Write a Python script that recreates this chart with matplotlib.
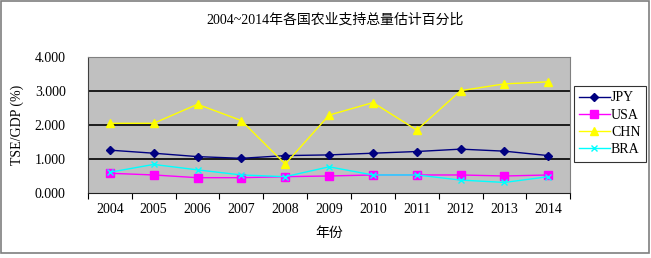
import numpy as np
import matplotlib
matplotlib.use('Agg')
import matplotlib.pyplot as plt
from matplotlib.patches import Rectangle

years = ['2004', '2005', '2006', '2007', '2008', '2009', '2010', '2011', '2012', '2013', '2014']
jpy = [1.26, 1.17, 1.07, 1.02, 1.10, 1.12, 1.17, 1.22, 1.29, 1.23, 1.10]
usa = [0.58, 0.53, 0.45, 0.45, 0.48, 0.50, 0.53, 0.53, 0.53, 0.50, 0.53]
chn = [2.05, 2.05, 2.61, 2.13, 0.85, 2.29, 2.66, 1.85, 3.01, 3.21, 3.27]
bra = [0.61, 0.84, 0.68, 0.53, 0.48, 0.77, 0.53, 0.53, 0.38, 0.31, 0.48]

SERIF = ['Liberation Serif', 'Noto Sans CJK SC']


def main() -> None:
    plt.rcParams['font.family'] = SERIF
    fig = plt.figure(figsize=(6.51, 2.58), dpi=100)
    fig.patches.append(Rectangle((0.002, 0.02), 0.995, 0.975, transform=fig.transFigure,
                                 fill=False, edgecolor='#7f7f7f', linewidth=1.2))

    ax = fig.add_axes([0.135, 0.252, 0.741, 0.527])
    ax.set_facecolor('#c0c0c0')
    x = np.arange(len(years))

    ax.plot(x, jpy, color='#000080', marker='D', markersize=4, linewidth=1, label='JPY')
    ax.plot(x, usa, color='#ff00ff', marker='s', markersize=6, linewidth=1, label='USA')
    ax.plot(x, chn, color='#ffff00', marker='^', markersize=6, linewidth=1, label='CHN')
    ax.plot(x, bra, color='#00ffff', marker='x', markersize=4, linewidth=1, label='BRA')

    ax.set_xlim(-0.5, len(years) - 0.5)
    ax.set_ylim(0, 4)
    ax.set_yticks([0, 1, 2, 3, 4])
    ax.set_yticklabels([f'{v:.3f}' for v in [0, 1, 2, 3, 4]], fontsize=10)
    ax.tick_params(axis='y', length=0, pad=16)
    for v in [1, 2, 3]:
        ax.axhline(v, color='black', linewidth=1.2, zorder=0.5)

    ax.set_xticks(np.arange(-0.5, len(years)), minor=False)
    ax.set_xticklabels([])
    ax.set_xticks(x, minor=True)
    ax.set_xticklabels(years, minor=True, fontsize=10)
    ax.tick_params(axis='x', which='major', direction='out', length=4, color='black')
    ax.tick_params(axis='x', which='minor', length=0, pad=7)

    ax.spines['left'].set_color('#404040')
    ax.spines['bottom'].set_color('#202020')
    ax.spines['top'].set_color('#808080')
    ax.spines['right'].set_color('#808080')

    ax.set_xlabel('年份', fontsize=10, labelpad=8)
    ax.set_ylabel('TSE/GDP (%)', fontsize=10, labelpad=8)

    fig.text(0.515, 0.925, '2004~2014年各国农业支持总量估计百分比', ha='center', va='center',
             fontsize=10)

    leg = fig.legend(loc='upper left', bbox_to_anchor=(0.881, 0.667), fontsize=10,
                     frameon=True, fancybox=False, edgecolor='black', handlelength=2.2,
                     handletextpad=0.1, borderpad=0.4, labelspacing=0.3, borderaxespad=0)
    leg.get_frame().set_linewidth(0.8)

    fig.savefig('out.png', dpi=100)


if __name__ == '__main__':
    main()
